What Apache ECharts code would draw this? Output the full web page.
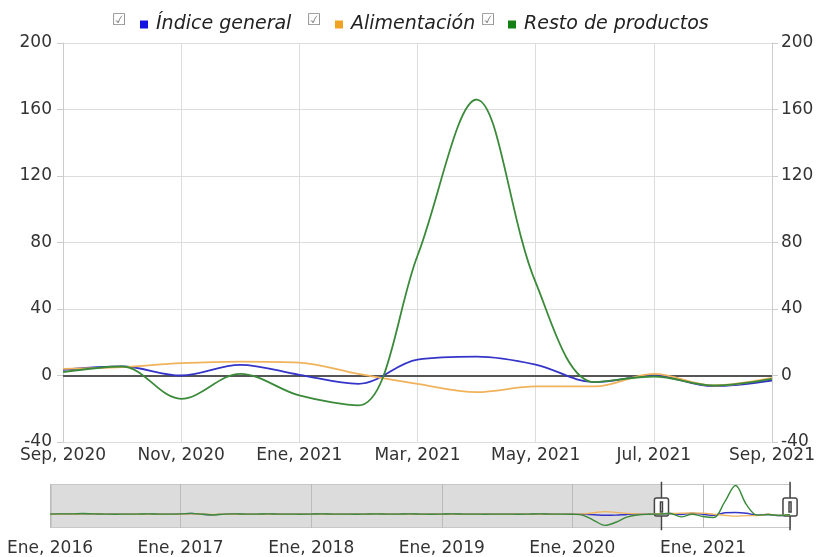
<!DOCTYPE html>
<html>
<head>
<meta charset="utf-8">
<script src="https://cdn.jsdelivr.net/npm/echarts@6/dist/echarts.min.js"></script>
<style>html,body{margin:0;padding:0;background:#fff}#c{width:818px;height:557px}</style>
</head>
<body>
<div id="c"></div>
<script>
// ---- data (monthly, Ene 2016 .. Sep 2021) ----
const monthNames = ['Ene','Feb','Mar','Abr','May','Jun','Jul','Ago','Sep','Oct','Nov','Dic'];
const years = [2016, 2017, 2018, 2019, 2020, 2021];
const lastMonthIndex2021 = 8; // Sep
const categories = [];
years.forEach(y => monthNames.forEach((m, i) => {
  if (y < 2021 || i <= lastMonthIndex2021) categories.push(m + ', ' + y);
}));

const seriesNames = ['Índice general', 'Alimentación', 'Resto de productos'];

const indiceGeneral = [
  2, 3, 2, 4, 3, 2, 1, 2, 2, 3, 2, 2,
  3, 5, 1, -2, 2, 3, 2, 2, 3, 2, 2, 1,
  2, 3, 2, 2, 1, 2, 3, 2, 2, 3, 2, 1,
  2, 3, 2, 2, 1, 2, 2, 1, 2, 3, 2, 2,
  2, 1, -2, -5, -4, 0, 2, 1,
  3.4, 5.4, 0, 6.4, 0.4, -5, 9.6, 11.4, 6.6, -4, 0, -6.4, -3
];
const alimentacion = [
  1, 2, 2, 3, 3, 2, 2, 2, 1, 2, 2, 2,
  2, 4, 2, 0, 2, 2, 2, 2, 2, 2, 2, 1,
  2, 2, 2, 2, 2, 2, 3, 2, 2, 2, 2, 1,
  2, 2, 2, 2, 2, 2, 2, 2, 2, 2, 2, 2,
  2, 3, 10, 16, 12, 6, 3, 2,
  4, 5, 7.4, 8.4, 7.8, 1, -5, -10, -6.6, -6.6, 1, -6, -1.5
];
const restoProductos = [
  2, 3, 3, 5, 3, 2, 1, 2, 2, 3, 2, 2,
  3, 6, 1, -3, 2, 3, 2, 2, 3, 2, 2, 1,
  2, 3, 2, 2, 1, 2, 3, 2, 2, 3, 2, 1,
  2, 3, 2, 2, 1, 2, 2, 1, 2, 3, 2, 2,
  1, -5, -35, -63, -45, -15, -3, 1,
  2, 5.4, -14, 1, -12, -18, 72, 166, 56, -4, -0.6, -6, -2
];

const lineColors = ['#3434c8', '#f0b35c', '#3a8a3a'];
const legendColors = ['#1414e0', '#f0a224', '#138013'];
const windowStart = 'Sep, 2020';
const windowEnd = 'Sep, 2021';

const FONT = 'DejaVu Sans';
const chart = echarts.init(document.getElementById('c'), null, {renderer: 'canvas'});
const values = [indiceGeneral, alimentacion, restoProductos];

const mainSeries = values.map((v, i) => ({
  name: seriesNames[i], type: 'line', xAxisIndex: 0, yAxisIndex: 0,
  data: v, smooth: 0.35, symbol: 'none',
  lineStyle: {color: lineColors[i], width: 1.8},
  itemStyle: {color: lineColors[i]},
  z: 3
}));
mainSeries[0].markLine = {
  silent: true, symbol: 'none', label: {show: false},
  lineStyle: {color: '#555', width: 2, type: 'solid'},
  data: [{yAxis: 0}], z: 2
};
const miniSeries = values.map((v, i) => ({
  name: seriesNames[i] + ' ', type: 'line', xAxisIndex: 1, yAxisIndex: 2,
  data: v, smooth: 0.35, symbol: 'none',
  lineStyle: {color: lineColors[i], width: 1.4},
  z: 8, silent: true
}));

const legendLefts = [135, 330, 503];
const checkLefts = [112, 307, 481];

chart.setOption({
  animation: false,
  textStyle: {fontFamily: FONT},
  legend: seriesNames.map((n, i) => ({
    data: [{name: n, itemStyle: {color: legendColors[i]}}],
    left: legendLefts[i], top: 10,
    icon: 'rect', itemWidth: 8, itemHeight: 8,
    textStyle: {fontStyle: 'italic', fontSize: 19, color: '#222', fontFamily: FONT, padding: [0, 0, 0, 3]}
  })),
  graphic: checkLefts.map(x => ({
    type: 'text', left: x, top: 13,
    style: {text: '☑', font: '16px "DejaVu Sans"', fill: '#888'}
  })),
  grid: [
    {left: 63, right: 37, top: 43, bottom: 115},
    {left: 50, right: 28, top: 484, height: 44}
  ],
  xAxis: [
    {
      type: 'category', gridIndex: 0, data: categories, boundaryGap: false,
      axisLine: {show: true, lineStyle: {color: '#ccc'}},
      axisTick: {show: false},
      axisLabel: {interval: 1, color: '#333', fontSize: 17, margin: 5, fontFamily: FONT},
      splitLine: {show: true, interval: 1, lineStyle: {color: '#ddd'}}
    },
    {
      type: 'category', gridIndex: 1, data: categories, boundaryGap: false, z: 6,
      axisLine: {show: false}, axisTick: {show: false},
      axisLabel: {interval: 11, color: '#333', fontSize: 17, margin: 12, fontFamily: FONT},
      splitLine: {show: true, interval: 11, lineStyle: {color: '#bbb'}}
    }
  ],
  yAxis: [
    {
      type: 'value', gridIndex: 0, min: -40, max: 200, interval: 40, position: 'left',
      axisLine: {show: true, lineStyle: {color: '#ccc'}},
      axisTick: {show: true, length: 6, lineStyle: {color: '#ccc'}},
      axisLabel: {color: '#333', fontSize: 17, margin: 11, fontFamily: FONT},
      splitLine: {show: true, lineStyle: {color: '#ddd'}}
    },
    {
      type: 'value', gridIndex: 0, min: -40, max: 200, interval: 40, position: 'right',
      axisLine: {show: true, lineStyle: {color: '#ccc'}},
      axisTick: {show: true, length: 6, lineStyle: {color: '#ccc'}},
      axisLabel: {color: '#333', fontSize: 17, margin: 9, fontFamily: FONT},
      splitLine: {show: false}
    },
    {type: 'value', gridIndex: 1, min: -78, max: 175, show: false}
  ],
  dataZoom: [{
    type: 'slider', xAxisIndex: 0, startValue: windowStart, endValue: windowEnd,
    left: 50, right: 28, top: 484, height: 44,
    backgroundColor: '#dcdcdc', fillerColor: '#fff', borderColor: '#c8c8c8',
    showDetail: false, showDataShadow: false, brushSelect: false,
    moveHandleSize: 0, moveHandleStyle: {opacity: 0},
    handleIcon: 'path://M6,0V14M6,32V48M1,14h10a2,2,0,0,1,2,2v14a2,2,0,0,1-2,2h-10a2,2,0,0,1-2-2v-14a2,2,0,0,1,2-2ZM5,18h2v10h-2Z',
    handleSize: '110%',
    handleStyle: {color: '#fff', borderColor: '#444', borderWidth: 1.5},
    dataBackground: {lineStyle: {opacity: 0}, areaStyle: {opacity: 0}},
    selectedDataBackground: {lineStyle: {opacity: 0}, areaStyle: {opacity: 0}},
    z: 4
  }],
  series: mainSeries.concat(miniSeries)
});
</script>
</body>
</html>
